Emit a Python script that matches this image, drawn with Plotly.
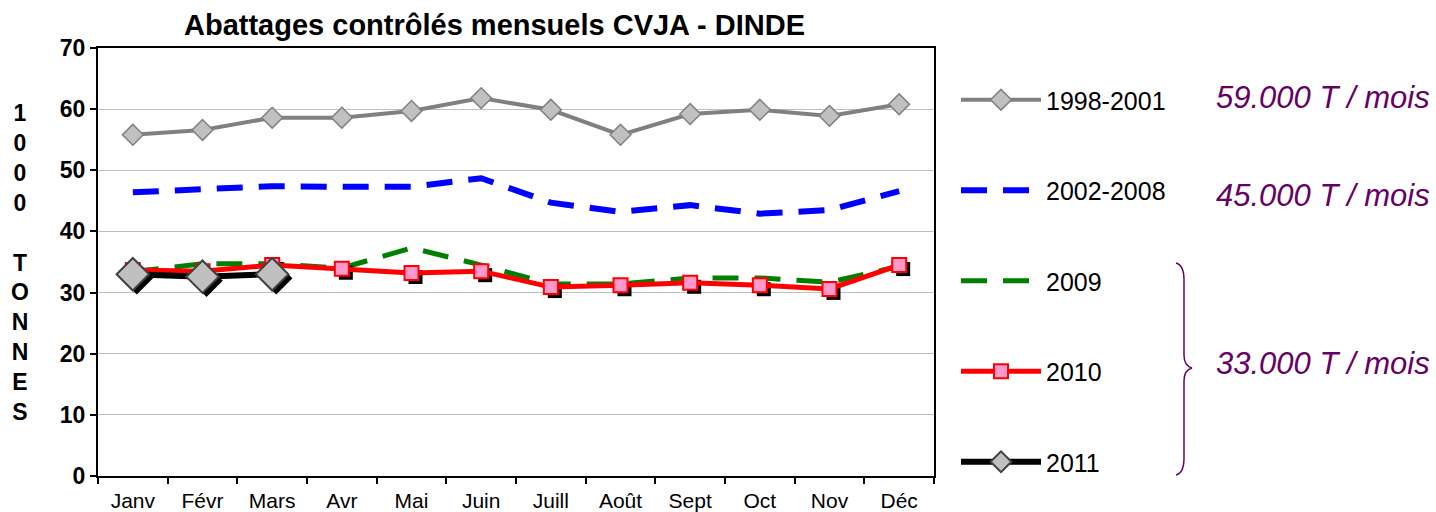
import plotly.graph_objects as go

months = ["Janv", "Févr", "Mars", "Avr", "Mai", "Juin", "Juill", "Août", "Sept", "Oct", "Nov", "Déc"]
s1998_2001 = [55.8, 56.6, 58.6, 58.6, 59.7, 61.8, 59.9, 55.8, 59.2, 59.9, 58.9, 60.8]
s2002_2008 = [46.4, 46.8, 47.4, 47.3, 47.3, 48.7, 44.7, 43.2, 44.3, 42.9, 43.5, 46.6]
s2009 = [33.4, 34.7, 34.7, 34.0, 37.3, 34.5, 31.4, 31.4, 32.4, 32.4, 31.7, 34.3]
s2010 = [33.7, 33.5, 34.5, 33.9, 33.2, 33.5, 30.9, 31.2, 31.6, 31.2, 30.6, 34.5]
s2011 = [33.0, 32.6, 33.0]
months2011 = months[:3]

title_text = "Abattages contrôlés mensuels CVJA - DINDE"
ylabel_text = "1<br>0<br>0<br>0<br><br>T<br>O<br>N<br>N<br>E<br>S"
avg_labels = ["59.000 T / mois", "45.000 T / mois", "33.000 T / mois"]

FONT = "Arial, Liberation Sans, sans-serif"
W, H = 1436, 512
L, R, T, B = 98, 934, 48, 476

def px_x(p):
    return (p - L) / (R - L)

def px_y(p):
    return (B - p) / (B - T)

fig = go.Figure()

fig.add_trace(go.Scatter(
    x=months, y=s1998_2001, name="1998-2001", mode="lines+markers",
    line=dict(color="#808080", width=4),
    marker=dict(symbol="diamond", size=16, color="#C0C0C0", line=dict(color="#808080", width=1.5)),
    legendgroup="a", xaxis="x", yaxis="y"))
fig.add_trace(go.Scatter(
    x=months, y=s2002_2008, name="2002-2008", mode="lines",
    line=dict(color="#0000FF", width=6, dash="26px,16px"),
    legendgroup="b", xaxis="x", yaxis="y"))
fig.add_trace(go.Scatter(
    x=months, y=s2009, name="2009", mode="lines",
    line=dict(color="#008000", width=5, dash="26px,16px"),
    legendgroup="c", xaxis="x", yaxis="y"))

# marker shadows
fig.add_trace(go.Scatter(
    x=months, y=s2010, mode="markers", showlegend=False, hoverinfo="skip",
    marker=dict(symbol="square", size=14, color="#000000"),
    xaxis="x2", yaxis="y2"))
fig.add_trace(go.Scatter(
    x=months2011, y=s2011, mode="markers", showlegend=False, hoverinfo="skip",
    marker=dict(symbol="diamond", size=25, color="#000000"),
    xaxis="x2", yaxis="y2"))

fig.add_trace(go.Scatter(
    x=months, y=s2010, name="2010", mode="lines+markers",
    line=dict(color="#FF0000", width=5),
    marker=dict(symbol="square", size=14, color="#FF99CC", line=dict(color="#FF0000", width=2)),
    legendgroup="d", xaxis="x3", yaxis="y3"))
fig.add_trace(go.Scatter(
    x=months2011, y=s2011, name="2011", mode="lines+markers",
    line=dict(color="#000000", width=6),
    marker=dict(symbol="diamond", size=25, color="#C0C0C0", line=dict(color="#404040", width=2)),
    legendgroup="e", xaxis="x3", yaxis="y3"))

shift_x = 4 / ((R - L) / 12)
shift_y = 4 / ((B - T) / 70)

fig.update_layout(
    width=W, height=H,
    margin=dict(l=L, r=W - R, t=T, b=H - B, autoexpand=False),
    paper_bgcolor="white", plot_bgcolor="white",
    font=dict(family=FONT, color="black"),
    title=dict(text="<b>" + title_text + "</b>", x=(181 + 808) / 2 / W, xanchor="center",
               y=1 - 25 / H, yanchor="middle", font=dict(size=29, family=FONT)),
    xaxis=dict(type="category", categoryarray=months, range=[-0.5, 11.5],
               showgrid=False, showline=True, linecolor="black", linewidth=2, mirror=True,
               ticks="outside", tickson="boundaries", ticklen=6, tickcolor="black", tickwidth=2,
               ticklabelstandoff=5, tickfont=dict(size=21, family=FONT)),
    yaxis=dict(range=[0, 70], dtick=10, showgrid=True, gridcolor="#BFBFBF", gridwidth=1,
               showline=True, linecolor="black", linewidth=2, mirror=True,
               ticks="outside", ticklen=6, tickcolor="black", tickwidth=2,
               tickfont=dict(size=23, family=FONT, weight="bold"), zeroline=False),
    xaxis2=dict(type="category", categoryarray=months, overlaying="x", anchor="y2",
                range=[-0.5 - shift_x, 11.5 - shift_x], visible=False),
    yaxis2=dict(overlaying="y", anchor="x2", range=[0 + shift_y, 70 + shift_y], visible=False),
    xaxis3=dict(type="category", categoryarray=months, overlaying="x", anchor="y3",
                range=[-0.5, 11.5], visible=False),
    yaxis3=dict(overlaying="y", anchor="x3", range=[0, 70], visible=False),
    legend=dict(x=px_x(956), xanchor="left", y=px_y(77), yanchor="top",
                font=dict(size=25, family=FONT), tracegroupgap=55, itemwidth=80,
                bgcolor="rgba(0,0,0,0)"),
    showlegend=True,
)

fig.add_annotation(xref="paper", yref="paper", x=px_x(20), y=px_y(262), text="<b>" + ylabel_text + "</b>",
                   showarrow=False, font=dict(size=23, family=FONT), xanchor="center", yanchor="middle")

for txt, yc in zip(avg_labels, [98, 195, 363]):
    fig.add_annotation(xref="paper", yref="paper", x=px_x(1432), y=px_y(yc), text="<i>" + txt + "</i>",
                       showarrow=False, font=dict(size=31, family=FONT, color="#660066"),
                       xanchor="right", yanchor="middle")

def P(xp, yp):
    return f"{px_x(xp):.5f},{px_y(yp):.5f}"

brace = ("M " + P(1176, 263) + " Q " + P(1184, 265) + " " + P(1184, 280)
         + " L " + P(1184, 355) + " Q " + P(1184, 366) + " " + P(1192, 368)
         + " Q " + P(1184, 370) + " " + P(1184, 381)
         + " L " + P(1184, 458) + " Q " + P(1184, 473) + " " + P(1176, 475))
fig.add_shape(type="path", xref="paper", yref="paper", path=brace,
              line=dict(color="#660066", width=1.5))

fig.write_html("out.html", config={"displayModeBar": False},
               post_script="document.body.style.margin='0';document.body.style.overflow='hidden';")
